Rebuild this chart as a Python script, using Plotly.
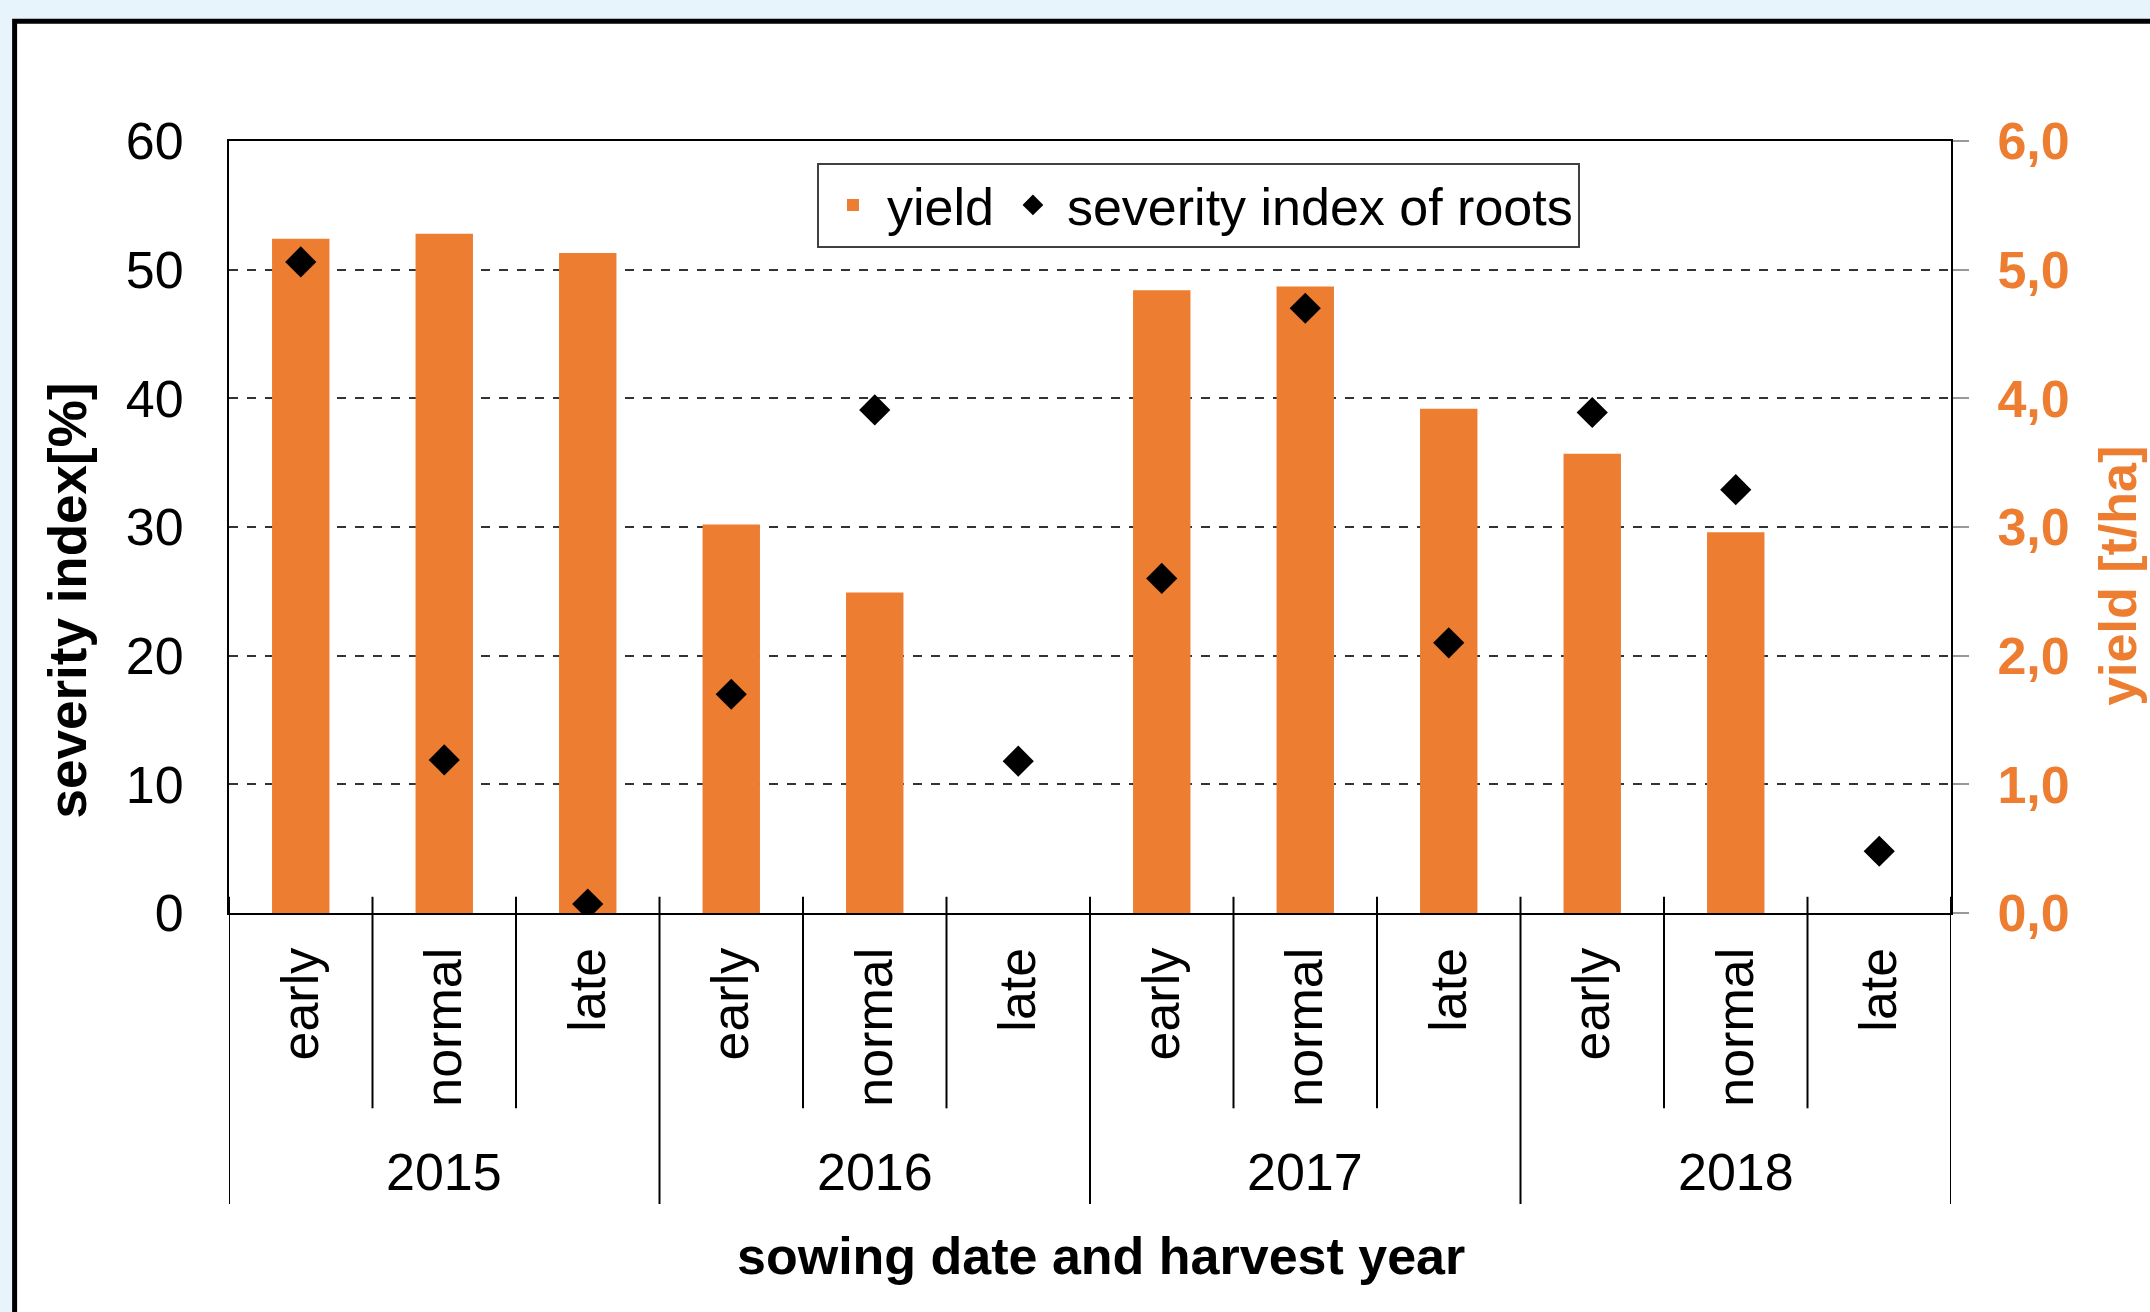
import plotly.graph_objects as go

# ---- data ----
years = ["2015", "2016", "2017", "2018"]
sowing = ["early", "normal", "late"]
categories = [s for y in years for s in sowing]
yield_t_ha = [5.24, 5.28, 5.13, 3.02, 2.49, None, 4.84, 4.87, 3.92, 3.57, 2.96, None]
severity_pct = [50.6, 11.9, 0.7, 17.0, 39.1, 11.8, 26.0, 47.0, 21.0, 38.9, 32.9, 4.8]
left_ticks = [0, 10, 20, 30, 40, 50, 60]
right_ticks = [0, 1, 2, 3, 4, 5, 6]

ORANGE = "#ED7D31"
BG = "#E8F4FC"
FONT = "Liberation Sans, Arial, Helvetica, sans-serif"
FS = 52

xpos = list(range(len(categories)))

fig = go.Figure()
fig.add_trace(go.Bar(
    x=xpos, y=yield_t_ha, name="yield", yaxis="y",
    marker=dict(color=ORANGE, line=dict(width=0)), width=0.4,
))
fig.add_trace(go.Scatter(
    x=xpos, y=severity_pct, name="severity index of roots", yaxis="y2",
    mode="markers", marker=dict(symbol="diamond", size=24, color="black"),
))

# separators of the hierarchical category axis
shapes = []
n_per = len(sowing)
for i in range(len(categories) + 1):
    b = i - 0.5
    is_year = (i % n_per == 0)
    shapes.append(dict(
        type="line", xref="x", yref="paper", x0=b, x1=b,
        y0=0.021, y1=-0.377 if is_year else -0.253,
        line=dict(color="black", width=2),
    ))
# outer frame of the figure
shapes.append(dict(
    type="rect", xref="paper", yref="paper", layer="below",
    x0=-0.1245, x1=1.3, y0=-0.7, y1=1.155,
    fillcolor="white", line=dict(color="black", width=5),
))

annotations = []
for k, yr in enumerate(years):
    annotations.append(dict(
        x=k * n_per + (n_per - 1) / 2, y=-0.3355, xref="x", yref="paper",
        text=yr, showarrow=False, yanchor="middle", xanchor="center",
        font=dict(family=FONT, size=FS, color="black"),
    ))
# axis titles (placed as in the original, off-centre)
annotations.append(dict(
    x=0.5064, y=-0.444, xref="paper", yref="paper",
    text="sowing date and harvest year",
    showarrow=False, xanchor="center", yanchor="middle",
    font=dict(family=FONT, size=FS, color="black", weight="bold"),
))
annotations.append(dict(
    x=-0.094, y=0.405, xref="paper", yref="paper", text="severity index[%]",
    textangle=-90, showarrow=False, xanchor="center", yanchor="middle",
    font=dict(family=FONT, size=53, color="black", weight="bold"),
))
annotations.append(dict(
    x=1.0965, y=0.437, xref="paper", yref="paper", text="yield [t/ha]",
    textangle=-90, showarrow=False, xanchor="center", yanchor="middle",
    font=dict(family=FONT, size=FS, color=ORANGE, weight="bold"),
))

fig.update_layout(
    width=2150, height=1312,
    margin=dict(l=229, r=199, t=141, b=399, autoexpand=False),
    paper_bgcolor=BG, plot_bgcolor="white",
    separators=", ",
    font=dict(family=FONT, size=FS, color="black"),
    barmode="overlay",
    showlegend=True,
    legend=dict(
        orientation="h", x=0.563, xanchor="center", y=0.972, yanchor="top",
        bgcolor="white", bordercolor="#404040", borderwidth=2,
        font=dict(family=FONT, size=FS, color="black"),
        itemwidth=58, tracegroupgap=0, itemsizing="trace",
    ),
    xaxis=dict(
        range=[-0.5, len(categories) - 0.5],
        tickvals=xpos, ticktext=categories, tickangle=-90,
        ticks="", ticklabelstandoff=12,
        showline=True, linecolor="black", linewidth=2, mirror=True,
        showgrid=False, zeroline=False,
        tickfont=dict(family=FONT, size=FS, color="black"),
        automargin=False,
    ),
    yaxis=dict(
        side="right", range=[0, 6], tickvals=right_ticks, tickformat=".1f",
        showline=True, linecolor="black", linewidth=2,
        ticks="outside", ticklen=16, tickwidth=2, tickcolor="#999999",
        ticklabelstandoff=18,
        showgrid=True, gridcolor="#333333", gridwidth=1.5, griddash="dash",
        zeroline=False,
        tickfont=dict(family=FONT, size=FS, color=ORANGE, weight="bold"),
        automargin=False,
    ),
    yaxis2=dict(
        overlaying="y", side="left", range=[0, 60], tickvals=left_ticks,
        showline=True, linecolor="black", linewidth=2,
        ticks="", ticklabelstandoff=33,
        showgrid=False, zeroline=False,
        tickfont=dict(family=FONT, size=FS, color="black"),
        automargin=False,
    ),
    shapes=shapes,
    annotations=annotations,
)

fig.write_html(
    "out.html",
    config={"displayModeBar": False},
    post_script="document.body.style.margin='0';document.body.style.background='%s';" % BG,
)
